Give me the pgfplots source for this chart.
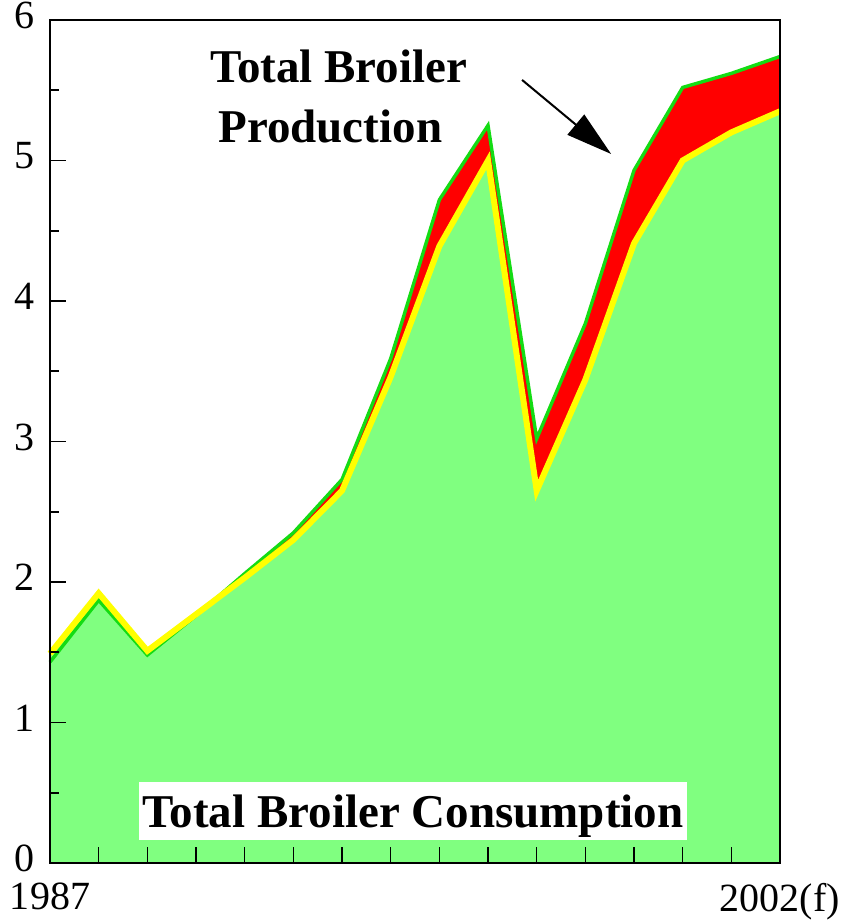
\documentclass[border=0pt]{standalone}
\usepackage{pgfplots}
\pgfplotsset{compat=1.18}
\usepackage{pgfplotstable}
\usepackage{fontspec}
\setmainfont{Liberation Serif}
\usetikzlibrary{arrows.meta}

\definecolor{consfill}{RGB}{128,255,128}
\definecolor{prodline}{RGB}{20,220,20}
\definecolor{consline}{RGB}{255,255,0}

% year, total production, total consumption
\pgfplotstableread{
year prod cons
1987 1.43 1.49
1988 1.87 1.92
1989 1.48 1.51
1990 1.76 1.77
1991 2.06 2.03
1992 2.35 2.30
1993 2.73 2.65
1994 3.59 3.46
1995 4.72 4.39
1996 5.25 5.00
1997 3.02 2.65
1998 3.84 3.44
1999 4.93 4.41
2000 5.52 5.00
2001 5.62 5.20
2002 5.74 5.35
}\broiler

\begin{document}
\begin{tikzpicture}
\begin{axis}[%
    ,scale only axis
    ,width=365pt, height=421.5pt
    ,xmin=1987, xmax=2002, ymin=0, ymax=6
    ,xtick={1987,...,2002}
    ,xticklabels={1987,,,,,,,,,,,,,,,2002(f)}
    ,ytick={0,...,6}
    ,minor y tick num=1
    ,tick align=inside
    ,xtick pos=bottom, ytick pos=left
    ,major tick length=8pt, minor tick length=4.5pt
    ,every tick/.style={black, line width=0.8pt}
    ,axis line style={line width=1.2pt}
    ,axis on top
    ,clip=false
    ,/pgf/number format/assume math mode=true
    ,tick label style={font=\rmfamily\fontsize{20}{24}\selectfont, inner sep=0pt}
    ,x tick label style={yshift=-9.8pt}
    ,y tick label style={xshift=-7.5pt, yshift=2.2pt}
    ]
  % areas
  \addplot[fill=red, draw=none] table[x=year, y=prod] {\broiler} \closedcycle;
  \addplot[fill=consfill, draw=none] table[x=year, y=cons] {\broiler} \closedcycle;
  % outlines
  \addplot[prodline, line width=1.7pt, mark=none] table[x=year, y=prod] {\broiler};
  \addplot[consline, line width=3pt, mark=none] table[x=year, y=cons] {\broiler};

  % labels
  \node[anchor=base, font=\bfseries\fontsize{23.5}{28}\selectfont]
    at (axis cs:1992.93,5.552) {Total Broiler};
  \node[anchor=base, font=\bfseries\fontsize{23.5}{28}\selectfont]
    at (axis cs:1992.76,5.125) {Production};
  \draw[line width=1pt, -{Triangle[length=23pt, width=13pt]}]
    (axis cs:1996.70,5.573) -- (axis cs:1998.53,5.046);
  \node[anchor=base, fill=white, inner xsep=2pt, inner ysep=1.5pt,
        text height=21pt, text depth=5pt,
        font=\bfseries\fontsize{23.5}{28}\selectfont]
    at (axis cs:1994.46,0.256) {Total Broiler Consumption};

  \coordinate (bl) at (rel axis cs:-0.0685,-0.0676);
  \coordinate (tr) at (rel axis cs:1.0863,1.0237);
\end{axis}
\pgfresetboundingbox
\useasboundingbox (bl) rectangle (tr);
\end{tikzpicture}
\end{document}
